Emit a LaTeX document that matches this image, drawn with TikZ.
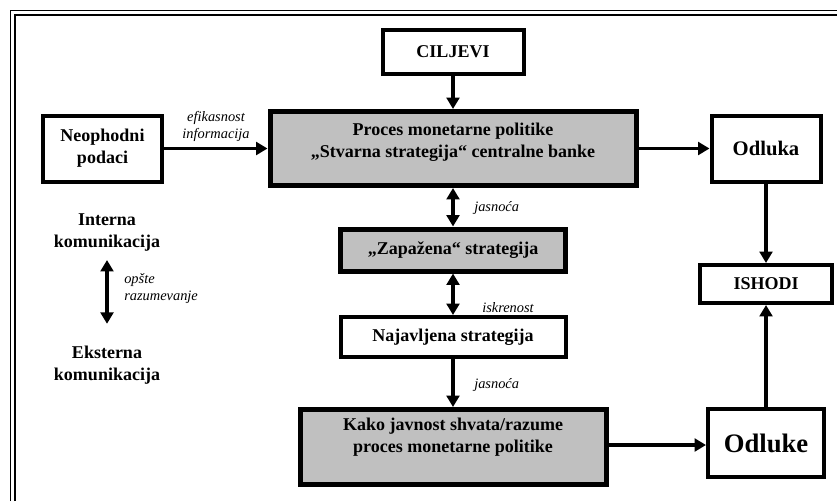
\documentclass[tikz,border=0pt]{standalone}
\usepackage{fontspec}
\setmainfont{Liberation Serif}
\usetikzlibrary{arrows.meta}
\definecolor{boxgray}{RGB}{192,192,192}

\begin{document}
\begin{tikzpicture}[x=0.75pt,y=0.75pt,yscale=-1,xscale=1,
  box/.style={draw, line width=3pt, fill=white, inner sep=0pt, align=center,
    font=\bfseries\fontsize{13.5}{16.5}\selectfont},
  graybox/.style={box, fill=boxgray, line width=3.75pt},
  boxtext/.style={align=center, font=\bfseries\fontsize{13.5}{16.5}\selectfont},
  lab/.style={align=left, inner sep=0pt, font=\itshape\fontsize{10.8}{12.8}\selectfont},
  conn/.style={line width=2.8pt, -{Triangle[length=8.5pt,width=9.5pt]}},
  dconn/.style={line width=2.8pt, {Triangle[length=8.5pt,width=9.5pt]}-{Triangle[length=8.5pt,width=9.5pt]}}]
\useasboundingbox (0,0) rectangle (837,501);

%Shape: Frame (double line, top and left)
\draw [line width=1.3pt]  (10.5,501) -- (10.5,10.5) -- (837,10.5) ;
\draw [line width=1.3pt]  (14.8,501) -- (14.8,14.8) -- (837,14.8) ;

%Shape: Rectangles
\node [box, minimum width=105.75pt, minimum height=33pt] (ciljevi) at (453,52) {CILJEVI};
\node [graybox, minimum width=274.5pt, minimum height=55.5pt] (proces) at (453,148.5) {};
\node [box, minimum width=89.25pt, minimum height=49.5pt] (neophodni) at (102.5,148.5) {Neophodni\\podaci};
\node [box, minimum width=81.75pt, minimum height=49.5pt,
  font=\bfseries\fontsize{15.5}{18}\selectfont] (odluka) at (766,148.5) {Odluka};
\node [graybox, minimum width=168.75pt, minimum height=31.5pt] (zapazena) at (453,250) {„Zapažena“ strategija};
\node [box, minimum width=168.75pt, minimum height=30pt] (najavljena) at (453,337) {Najavljena strategija};
\node [graybox, minimum width=229.5pt, minimum height=56.25pt] (kako) at (453,447) {};
\node [box, minimum width=99pt, minimum height=28.5pt] (ishodi) at (766,284) {ISHODI};
\node [box, minimum width=87pt, minimum height=51pt,
  font=\bfseries\fontsize{20}{24}\selectfont] (odluke) at (766,443) {Odluke};

% Text Node
\node [boxtext] (procestxt) at (453,142) {Proces monetarne politike\\„Stvarna strategija“ centralne banke};
% Text Node
\node [boxtext] (kakotxt) at (453,437.5) {Kako javnost shvata/razume\\proces monetarne politike};
% Text Node
\node [boxtext] (interna) at (107,232.5) {Interna\\komunikacija};
% Text Node
\node [boxtext] (eksterna) at (107,365) {Eksterna\\komunikacija};

%Straight Lines (arrows)
\draw [conn] (ciljevi) -- (proces) ;
\draw [conn] (neophodni) -- (proces) ;
\draw [conn] (proces) -- (odluka) ;
\draw [dconn] (proces) -- (zapazena) ;
\draw [dconn] (zapazena) -- (najavljena) ;
\draw [conn] (najavljena) -- (kako) ;
\draw [conn] (kako.east |- 0,445) -- (odluke.west |- 0,445) ;
\draw [conn] (odluka) -- (ishodi) ;
\draw [conn] (odluke) -- (ishodi) ;
\draw [dconn, shorten <=3pt, shorten >=13pt] (interna) -- (eksterna) ;

% Text Node
\node [lab, align=center, anchor=center] (lefikasnost) at (216,126) {efikasnost\\informacija};
% Text Node
\node [lab, anchor=west] (ljasnoca) at (474,208) {jasnoća};
% Text Node
\node [lab, anchor=west] (liskrenost) at (482,308) {iskrenost};
% Text Node
\node [lab, anchor=west] (ljasnocab) at (474,385) {jasnoća};
% Text Node
\node [lab, anchor=west] (lopste) at (124,288.5) {opšte\\razumevanje};

\end{tikzpicture}
\end{document}
